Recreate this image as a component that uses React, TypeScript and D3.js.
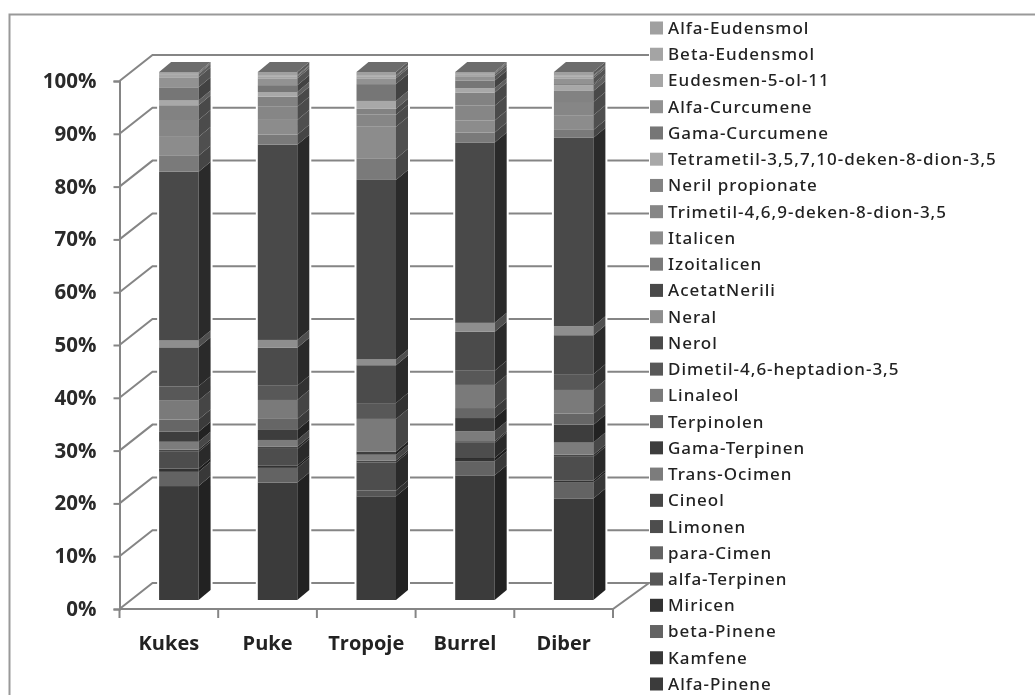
import { useEffect, useRef } from "react";
import * as d3 from "d3";

const regions = ["Kukes", "Puke", "Tropoje", "Burrel", "Diber"];

// bottom of the stack first; the legend lists them the other way round
const compounds = [
  "Alfa-Pinene", "Kamfene", "beta-Pinene", "Miricen", "alfa-Terpinen", "para-Cimen",
  "Limonen", "Cineol", "Trans-Ocimen", "Gama-Terpinen", "Terpinolen", "Linaleol",
  "Dimetil-4,6-heptadion-3,5", "Nerol", "Neral", "AcetatNerili", "Izoitalicen", "Italicen",
  "Trimetil-4,6,9-deken-8-dion-3,5", "Neril propionate", "Tetrametil-3,5,7,10-deken-8-dion-3,5",
  "Gama-Curcumene", "Alfa-Curcumene", "Eudesmen-5-ol-11", "Beta-Eudensmol", "Alfa-Eudensmol",
];

const alfaPinene = [21.6, 22.3, 19.7, 23.7, 19.3];
const kamfene = [0, 0, 0, 0, 0];
const betaPinene = [2.7, 2.8, 0, 2.7, 3.0];
const miricen = [0.6, 0.4, 0, 0.6, 0.4];
const alfaTerpinen = [0, 0, 1.1, 0, 0];
const paraCimen = [0, 0, 0, 0, 0];
const limonen = [3.2, 3.2, 5.3, 2.9, 4.5];
const cineol = [0.4, 0.4, 0.4, 0.3, 0.4];
const transOcimen = [1.5, 1.3, 1.1, 1.9, 2.3];
const gamaTerpinen = [1.9, 1.9, 0.6, 2.5, 3.4];
const terpinolen = [2.3, 2.1, 0, 1.9, 2.1];
const linaleol = [3.6, 3.6, 6.2, 4.4, 4.5];
const dimetil = [2.7, 2.7, 3.0, 2.7, 3.0];
const nerol = [7.4, 7.2, 7.2, 7.4, 7.4];
const neral = [1.3, 1.5, 1.1, 1.7, 1.7];
const acetatNerili = [32.0, 37.1, 34.1, 34.3, 35.8];
const izoitalicen = [3.0, 1.9, 4.0, 1.9, 1.5];
const italicen = [3.6, 2.8, 6.1, 2.3, 2.8];
const trimetil = [3.2, 2.5, 2.3, 2.8, 2.5];
const nerilPropionate = [2.8, 1.9, 1.1, 2.5, 2.1];
const tetrametil = [0.9, 0.9, 1.5, 0.8, 1.1];
const gamaCurcumene = [2.5, 1.3, 3.2, 1.5, 0.2];
const alfaCurcumene = [1.9, 1.3, 1.1, 0.8, 1.1];
const eudesmen = [0.6, 0.4, 0.4, 0.4, 0.4];
const betaEudensmol = [0.2, 0.2, 0.2, 0.2, 0.2];
const alfaEudensmol = [0.2, 0.6, 0.6, 0.2, 0.6];

const seriesValues = [
  alfaPinene, kamfene, betaPinene, miricen, alfaTerpinen, paraCimen, limonen, cineol,
  transOcimen, gamaTerpinen, terpinolen, linaleol, dimetil, nerol, neral, acetatNerili,
  izoitalicen, italicen, trimetil, nerilPropionate, tetrametil, gamaCurcumene,
  alfaCurcumene, eudesmen, betaEudensmol, alfaEudensmol,
];

const greys = [
  "#3a3a3a", "#383838", "#646464", "#303030", "#565656", "#646464", "#4e4e4e", "#464646",
  "#7c7c7c", "#3e3e3e", "#666666", "#7a7a7a", "#585858", "#4c4c4c", "#8e8e8e", "#4a4a4a",
  "#7a7a7a", "#8c8c8c", "#868686", "#828282", "#a8a8a8", "#767676", "#929292", "#a6a6a6",
  "#a4a4a4", "#a0a0a0",
];

const width = 1035;
const height = 695;
const lineColor = "#858585";

const yTicks = [0, 0.1, 0.2, 0.3, 0.4, 0.5, 0.6, 0.7, 0.8, 0.9, 1];

const App = () => {
  const svgRef = useRef<SVGSVGElement | null>(null);

  useEffect(() => {
    if (!svgRef.current) return;
    const svg = d3.select(svgRef.current);
    svg.selectAll("*").remove();

    // front plane of the 3d box, plus how far the back wall and the bars are pushed
    const plot = { left: 119.5, right: 613, top: 81, bottom: 609 };
    const wall = { dx: 33, dy: -26 };
    const barShift = { dx: 10, dy: -9 };
    const depth = { dx: 12, dy: -10 };

    const x = d3.scaleBand<string>().domain(regions).range([plot.left, plot.right]).paddingInner(0.6).paddingOuter(0.3);
    const y = d3.scaleLinear().domain([0, 1]).range([plot.bottom, plot.top]);

    const rows = regions.map((region, i) => {
      const row: Record<string, number | string> = { region };
      compounds.forEach((c, j) => (row[c] = seriesValues[j][i]));
      return row;
    });
    const stacked = d3.stack<any>().keys(compounds).offset(d3.stackOffsetExpand)(rows);

    const root = svg.append("g").attr("filter", "url(#scan)");
    svg
      .append("defs")
      .append("filter")
      .attr("id", "scan")
      .append("feGaussianBlur")
      .attr("stdDeviation", 0.45);

    root.append("rect").attr("width", width).attr("height", height).attr("fill", "#fff");

    // frame, open at the right and the bottom where the picture was cropped
    root
      .append("path")
      .attr("d", `M9.5,${height + 5}V14.5H${width + 5}`)
      .attr("fill", "none")
      .attr("stroke", "#999")
      .attr("stroke-width", 2);

    const grid = root.append("g").attr("fill", "none").attr("stroke", lineColor).attr("stroke-width", 2);
    yTicks.slice(1).forEach((t) => {
      grid
        .append("path")
        .attr("d", `M${plot.left},${y(t)}l${wall.dx},${wall.dy}H${plot.right + wall.dx + 3}`);
    });
    grid
      .append("path")
      .attr(
        "d",
        `M${plot.left},${plot.bottom}l${wall.dx},${wall.dy}H${plot.right + wall.dx + 3}L${plot.right},${plot.bottom}H${plot.left}`
      );

    const yAxis = root
      .append("g")
      .attr("transform", `translate(${plot.left},0)`)
      .call(d3.axisLeft(y).tickValues(yTicks).tickFormat(d3.format(".0%")).tickSize(6).tickPadding(17));
    yAxis.selectAll("line,path").attr("stroke", lineColor).attr("stroke-width", 2);
    yAxis
      .selectAll("text")
      .attr("font-family", "'Open Sans', sans-serif")
      .attr("font-size", 20.5)
      .attr("font-weight", 700)
      .attr("fill", "#2a2a2a");

    const xAxis = root
      .append("g")
      .attr("transform", `translate(0,${plot.bottom})`)
      .call(d3.axisBottom(x).tickSize(0).tickPadding(27));
    xAxis.select(".domain").remove();
    xAxis
      .selectAll("text")
      .attr("font-family", "'Open Sans', sans-serif")
      .attr("font-size", 20)
      .attr("font-weight", 700)
      .attr("fill", "#222");

    const step = (plot.right - plot.left) / regions.length;
    d3.range(regions.length + 1).forEach((i) => {
      root
        .append("line")
        .attr("x1", plot.left + i * step)
        .attr("x2", plot.left + i * step)
        .attr("y1", plot.bottom)
        .attr("y2", plot.bottom + 9)
        .attr("stroke", lineColor)
        .attr("stroke-width", 2);
    });

    // halo next to the bars, the gridlines stop short of them in the scan
    const bars = root.append("g");
    regions.forEach((region) => {
      const x0 = x(region)! + barShift.dx;
      const w = x.bandwidth();
      bars
        .append("rect")
        .attr("x", x0 - 2)
        .attr("y", y(1) + barShift.dy + depth.dy)
        .attr("width", w + depth.dx + 4)
        .attr("height", y(0) - y(1) - depth.dy)
        .attr("fill", "#fff");
    });

    stacked.forEach((layer, j) => {
      const g = bars.append("g");
      layer.forEach((d, i) => {
        if (d[1] - d[0] <= 0) return;
        const x0 = x(regions[i])! + barShift.dx;
        const w = x.bandwidth();
        const y0 = y(d[0]) + barShift.dy;
        const y1 = y(d[1]) + barShift.dy;
        const col = d3.color(greys[j])!;
        g.append("rect").attr("x", x0).attr("y", y1).attr("width", w).attr("height", y0 - y1).attr("fill", greys[j]);
        g.append("path")
          .attr("d", `M${x0 + w},${y0}l${depth.dx},${depth.dy}V${y1 + depth.dy}l${-depth.dx},${-depth.dy}Z`)
          .attr("fill", col.darker(1.6).formatHex());
      });
    });
    // lids take their grey from the topmost layer
    regions.forEach((region) => {
      const x0 = x(region)! + barShift.dx;
      const w = x.bandwidth();
      const yTop = y(1) + barShift.dy;
      bars
        .append("path")
        .attr("d", `M${x0},${yTop}l${depth.dx},${depth.dy}h${w}l${-depth.dx},${-depth.dy}Z`)
        .attr("fill", "#6c6c6c");
    });

    // legend reads top down, so reverse the stacking order
    const legendY = d3
      .scalePoint<string>()
      .domain([...compounds].reverse())
      .range([28, 684]);
    const legend = root.append("g");
    compounds.forEach((c, j) => {
      const g = legend.append("g").attr("transform", `translate(650,${legendY(c)})`);
      g.append("rect").attr("x", 0).attr("y", -6.5).attr("width", 13).attr("height", 13).attr("fill", greys[j]);
      g.append("text")
        .attr("x", 18)
        .attr("dy", "0.35em")
        .attr("font-family", "'Noto Sans', sans-serif")
        .attr("font-size", 17)
        .attr("letter-spacing", 1)
        .attr("font-weight", 500)
        .attr("fill", "#222")
        .text(c);
    });
  }, []);

  return (
    <svg
      ref={svgRef}
      width={width}
      height={height}
      style={{ position: "absolute", left: 0, top: 0, display: "block" }}
    />
  );
};

export default App;
